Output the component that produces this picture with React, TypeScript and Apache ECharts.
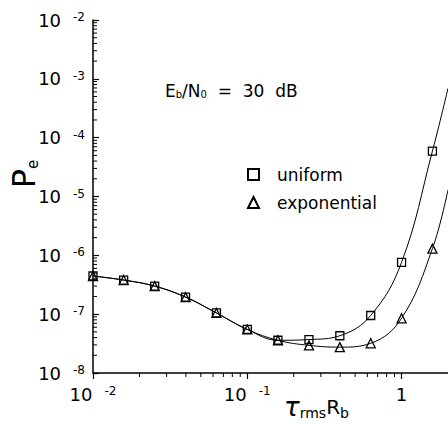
import React, { useEffect, useRef } from "react";
import * as echarts from "echarts";

// tau_rms * R_b values (log-spaced sample points); last entry is the curve end at the plot edge
const xValues = [0.01, 0.0158, 0.0251, 0.0398, 0.0631, 0.1, 0.158, 0.251, 0.398, 0.631, 1, 1.585, 2];
const uniformPe = [4.45e-7, 3.8e-7, 3.0e-7, 1.95e-7, 1.05e-7, 5.5e-8, 3.6e-8, 3.7e-8, 4.3e-8, 9.5e-8, 7.6e-7, 5.9e-5, 6.9e-4];
const exponentialPe = [4.45e-7, 3.8e-7, 3.0e-7, 1.95e-7, 1.05e-7, 5.5e-8, 3.6e-8, 2.95e-8, 2.75e-8, 3.2e-8, 8.5e-8, 1.3e-6, 1.3e-5];

const xMajorTicks = [0.01, 0.1, 1];
const yMajorTicks = [1e-8, 1e-7, 1e-6, 1e-5, 1e-4, 1e-3, 1e-2];
const minorMultipliers = [2, 3, 4, 5, 6, 7, 8, 9];

const seriesNames = ["uniform", "exponential"];

const FONT = "DejaVu Sans";

function minorTicks(decades: number[]) {
  const out: number[] = [];
  decades.forEach((d) => minorMultipliers.forEach((m) => out.push(d * m)));
  return out;
}

function expLabel(v: number) {
  if (Math.abs(v - 1) < 1e-9) return "{b|1}";
  const e = Math.round(Math.log10(v));
  return "{b|10}{s|-" + Math.abs(e) + "}";
}

export default function App() {
  const ref = useRef<HTMLDivElement>(null);
  useEffect(() => {
    if (!ref.current) return;
    const chart = echarts.init(ref.current, null, { renderer: "svg" });
    const xMin = 0.01, xMax = 2, yMin = 1e-8, yMax = 1e-2;
    const xMinor = minorTicks([0.01, 0.1]);
    const yMinor = minorTicks(yMajorTicks.slice(0, -1));
    const lastIdx = xValues.length - 1;
    const mkData = (ys: number[]) =>
      xValues.map((x, i) =>
        i === lastIdx ? { value: [x, ys[i]], symbol: "none" } : { value: [x, ys[i]] }
      );
    const labelRich = {
      b: { fontFamily: FONT, fontSize: 18, color: "#000" },
      s: { fontFamily: FONT, fontSize: 12, color: "#000", verticalAlign: "top", padding: [0, 0, 0, 12] },
    };
    chart.setOption({
      animation: false,
      backgroundColor: "#fff",
      grid: { left: 93, right: 0, top: 20, bottom: 51, outerBoundsMode: "none", containLabel: false },
      xAxis: {
        type: "log",
        logBase: 10,
        min: xMin,
        max: xMax,
        name: "{t|τ}{r|rms}{R|R}{b|b}",
        nameLocation: "middle",
        nameGap: 21,
        nameMoveOverlap: false,
        nameTextStyle: {
          padding: [0, 0, 0, 92],
          rich: {
            t: { fontFamily: FONT, fontSize: 26, fontStyle: "italic", color: "#000" },
            r: { fontFamily: FONT, fontSize: 14, color: "#000", verticalAlign: "bottom" },
            R: { fontFamily: FONT, fontSize: 20, color: "#000" },
            b: { fontFamily: FONT, fontSize: 14, color: "#000", verticalAlign: "bottom" },
          },
        },
        axisLine: { lineStyle: { color: "#000", width: 1.5 } },
        axisTick: { customValues: xMajorTicks, length: 6, inside: false, lineStyle: { color: "#000", width: 1.2 } },
        axisLabel: { customValues: xMajorTicks, formatter: expLabel, rich: labelRich, margin: 12 },
        splitLine: { show: false },
      },
      yAxis: {
        type: "log",
        logBase: 10,
        min: yMin,
        max: yMax,
        axisLine: { lineStyle: { color: "#000", width: 1.5 } },
        axisTick: { customValues: yMajorTicks, length: 6, inside: true, lineStyle: { color: "#000", width: 1.2 } },
        axisLabel: { customValues: yMajorTicks, formatter: expLabel, rich: labelRich, margin: 8 },
        splitLine: { show: false },
      },
      legend: {
        orient: "vertical",
        left: 242,
        top: 161,
        itemWidth: 11,
        itemHeight: 11,
        itemGap: 11,
        data: [
          { name: seriesNames[0], icon: "rect" },
          { name: seriesNames[1], icon: "triangle" },
        ],
        textStyle: { fontFamily: FONT, fontSize: 17, color: "#000", padding: [0, 0, 0, 13] },
      },
      graphic: [
        {
          type: "text",
          left: 165,
          top: 82,
          style: {
            text: "{n|E}{sb|b}{n|/N}{sb|0}{n|  =  30  dB}",
            rich: {
              n: { fontFamily: FONT, fontSize: 17, fill: "#000" },
              sb: { fontFamily: FONT, fontSize: 10, fill: "#000", verticalAlign: "bottom" },
            },
          },
        },
        {
          type: "text",
          x: 24,
          y: 174,
          rotation: Math.PI / 2,
          style: {
            text: "{p|P}{e|e}",
            align: "center",
            verticalAlign: "middle",
            rich: {
              p: { fontFamily: FONT, fontSize: 32, fill: "#000" },
              e: { fontFamily: FONT, fontSize: 15, fill: "#000", verticalAlign: "bottom" },
            },
          },
        },
      ],
      series: [
        {
          name: seriesNames[0],
          type: "line",
          smooth: 0.4,
          data: mkData(uniformPe),
          symbol: "rect",
          symbolSize: 8,
          lineStyle: { color: "#000", width: 1 },
          itemStyle: { color: "transparent", borderColor: "#000", borderWidth: 1.3 },
          z: 3,
        },
        {
          name: seriesNames[1],
          type: "line",
          smooth: 0.4,
          data: mkData(exponentialPe),
          symbol: "triangle",
          symbolSize: 9,
          lineStyle: { color: "#000", width: 1 },
          itemStyle: { color: "transparent", borderColor: "#000", borderWidth: 1.3 },
          z: 3,
        },
        {
          type: "custom",
          silent: true,
          clip: false,
          data: xMinor.map((v) => [v, yMin]),
          renderItem: (params: any, api: any) => {
            const p = api.coord([api.value(0), api.value(1)]);
            return {
              type: "line",
              shape: { x1: p[0], y1: p[1], x2: p[0], y2: p[1] + 4 },
              style: { stroke: "#000", lineWidth: 1 },
            };
          },
        },
        {
          type: "custom",
          silent: true,
          clip: false,
          data: yMinor.map((v) => [xMin, v]),
          renderItem: (params: any, api: any) => {
            const p = api.coord([api.value(0), api.value(1)]);
            return {
              type: "line",
              shape: { x1: p[0], y1: p[1], x2: p[0] + 4, y2: p[1] },
              style: { stroke: "#000", lineWidth: 1 },
            };
          },
        },
      ],
    });
    return () => chart.dispose();
  }, []);
  return (
    <div
      ref={ref}
      style={{ position: "absolute", left: 0, top: 0, width: 448, height: 424 }}
    />
  );
}
